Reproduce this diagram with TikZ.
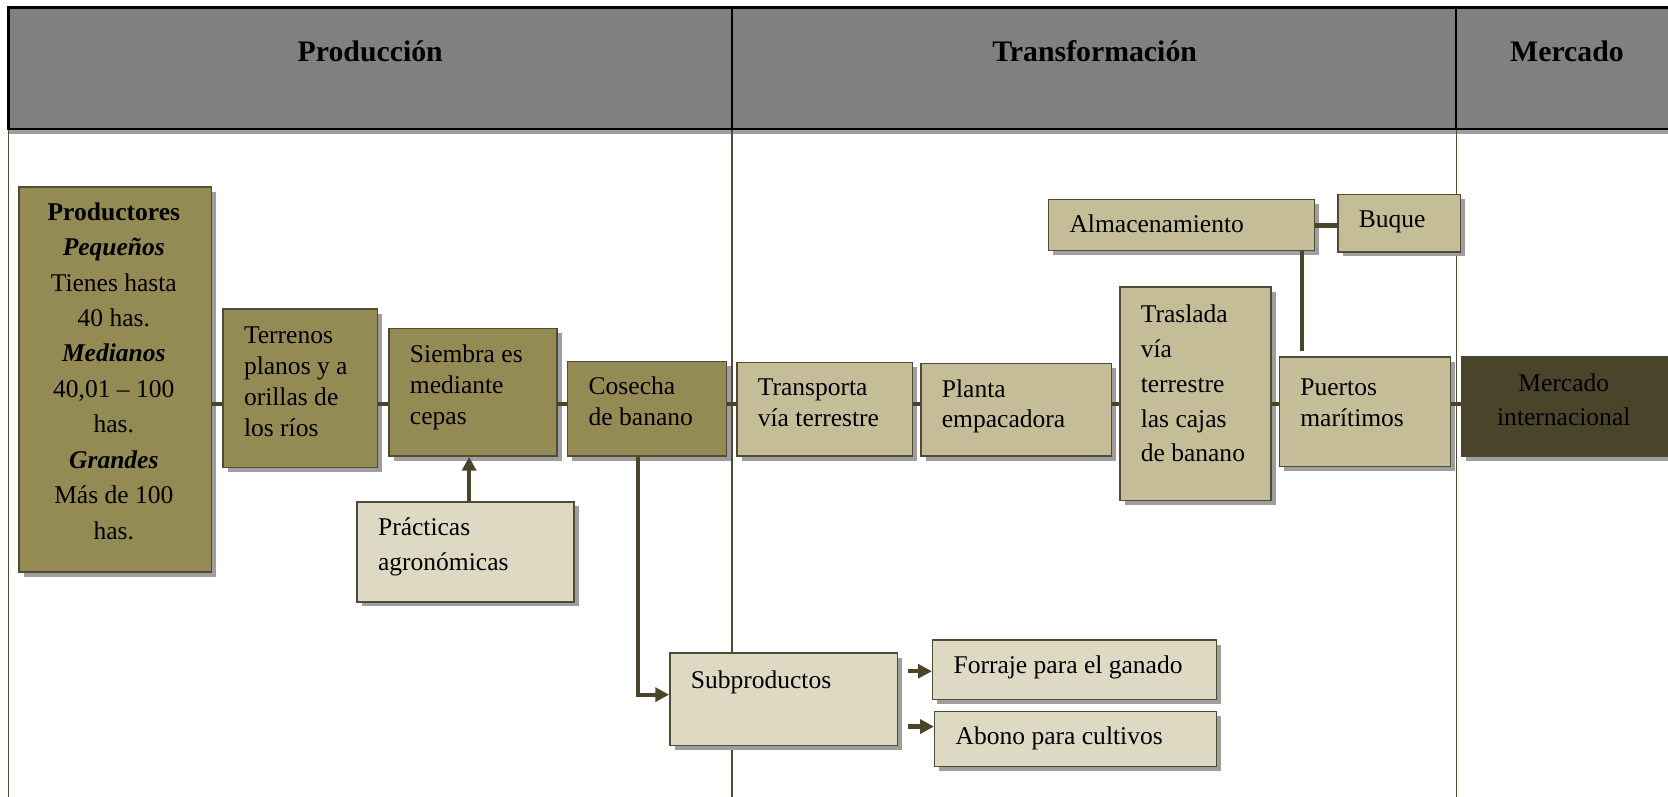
\documentclass[tikz,border=0pt]{standalone}
\usepackage{fontspec}
\setmainfont{Liberation Serif}
\usetikzlibrary{arrows.meta,shadows}
\definecolor{tanD}{HTML}{948A54}
\definecolor{tanM}{HTML}{C4BD97}
\definecolor{tanL}{HTML}{DDD9C3}
\definecolor{tanX}{HTML}{4A442A}
\definecolor{hdr}{HTML}{808080}
\definecolor{edgec}{HTML}{4F4B36}
\newcommand\lft[2]{\vtop{\baselineskip=#1\lineskiplimit=-20pt\halign{##\hfil\cr#2\crcr}}}
\newcommand\ctr[2]{\vtop{\baselineskip=#1\lineskiplimit=-20pt\halign{\hfil##\hfil\cr#2\crcr}}}
\begin{document}
\begin{tikzpicture}[x=0.5pt,y=-0.5pt,
  bx/.style={draw=edgec, line width=0.7pt, inner sep=0pt, anchor=north west,
    drop shadow={shadow xshift=2.2pt,shadow yshift=-2.2pt,fill=black!38,opacity=1}},
  txt/.style={inner sep=0pt, anchor=base west, font=\fontsize{12}{14.5}\selectfont},
  conn/.style={draw=tanX, line width=2pt},
  arr/.style={conn, -{Triangle[length=6.5pt,width=6.5pt]}},
  hd/.style={font=\fontsize{14}{16}\selectfont\bfseries, inner sep=0pt, anchor=base},
  gridl/.style={draw=edgec, line width=0.6pt}]
\useasboundingbox (0,0) rectangle (1568,749);
% table
\fill[black!38] (8,121) rectangle (1568,126);
\fill[hdr] (8,7) rectangle (1568,121);
\draw[gridl] (8,121) -- (8,749);
\draw[gridl] (688,121) -- (688,749);
\draw[gridl] (1369,121) -- (1369,749);
\draw[black, line width=1.1pt] (1568,7) -- (8,7) -- (8,121) -- (1568,121);
\draw[black, line width=0.9pt] (688,7) -- (688,121);
\draw[black, line width=0.9pt] (1369,7) -- (1369,121);
\node[hd] (hP) at (348,58) {Producción};
\node[hd] (hT) at (1029,58) {Transformación};
\node[hd] (hM) at (1473,58) {Mercado};
% boxes
\node[bx, fill=tanD, minimum width=90.5pt, minimum height=181pt] (prod) at (17,175) {};
\node[bx, fill=tanD, minimum width=72.5pt, minimum height=74.5pt] (terr) at (209,290) {};
\node[bx, fill=tanD, minimum width=79pt, minimum height=60pt] (siem) at (365,308) {};
\node[bx, fill=tanD, minimum width=74.5pt, minimum height=44.5pt] (cose) at (533,339) {};
\node[bx, fill=tanL, minimum width=102pt, minimum height=47pt] (prac) at (335,471) {};
\node[bx, fill=tanM, minimum width=82.5pt, minimum height=44pt] (tran) at (692,340) {};
\node[bx, fill=tanM, minimum width=89.5pt, minimum height=43.5pt] (plan) at (865,341) {};
\node[bx, fill=tanM, minimum width=71pt, minimum height=100.5pt] (tras) at (1052,269) {};
\node[bx, fill=tanM, minimum width=80.5pt, minimum height=51.5pt] (puer) at (1202,335) {};
\node[bx, fill=tanX, draw=tanX, minimum width=105pt, minimum height=46.5pt] (merc) at (1373,335) {};
\node[bx, fill=tanM, minimum width=125pt, minimum height=24pt] (alma) at (985,187) {};
\node[bx, fill=tanM, minimum width=57.5pt, minimum height=27pt] (buqu) at (1257,182) {};
\node[bx, fill=tanL, minimum width=107pt, minimum height=43.5pt] (subp) at (629,613) {};
\node[bx, fill=tanL, minimum width=133.5pt, minimum height=28pt] (forr) at (876,601) {};
\node[bx, fill=tanL, minimum width=132.5pt, minimum height=26pt] (abon) at (878,668) {};
% texts
\node[txt, anchor=base] (prodT) at (107,207) {\ctr{16.65pt}{\bfseries Productores\cr \bfseries\itshape Pequeños\cr Tienes hasta\cr 40 has.\cr \bfseries\itshape Medianos\cr 40,01 – 100\cr has.\cr \bfseries\itshape Grandes\cr Más de 100\cr has.}};
\node[txt] (terrT) at (229,323) {\lft{14.5pt}{Terrenos\cr planos y a\cr orillas de\cr los ríos}};
\node[txt] (siemT) at (385,341) {\lft{14.5pt}{Siembra es\cr mediante\cr cepas}};
\node[txt] (coseT) at (553,371) {\lft{14.5pt}{Cosecha\cr de banano}};
\node[txt] (pracT) at (355,503) {\lft{16.5pt}{Prácticas\cr agronómicas}};
\node[txt] (tranT) at (712,372) {\lft{14.5pt}{Transporta\cr vía terrestre}};
\node[txt] (planT) at (885,374) {\lft{14pt}{Planta\cr empacadora}};
\node[txt] (trasT) at (1072,303) {\lft{16.4pt}{Traslada\cr vía\cr terrestre\cr las cajas\cr de banano}};
\node[txt] (puerT) at (1222,372) {\lft{14.5pt}{Puertos\cr marítimos}};
\node[txt, anchor=base, text=black] (mercT) at (1470,368) {\ctr{16pt}{Mercado\cr internacional}};
\node[txt] (almaT) at (1005,219) {Almacenamiento};
\node[txt] (buquT) at (1277,214) {Buque};
\node[txt] (subpT) at (649,647) {Subproductos};
\node[txt] (forrT) at (896,633) {Forraje para el ganado};
\node[txt] (abonT) at (898,700) {Abono para cultivos};
% connectors
\coordinate (cy) at (0,380);
\draw[conn] (prod.east |- cy) -- (terr.west |- cy);
\draw[conn] (terr.east |- cy) -- (siem.west |- cy);
\draw[conn] (siem.east |- cy) -- (cose.west |- cy);
\draw[conn] (cose.east |- cy) -- (tran.west |- cy);
\draw[conn] (tran.east |- cy) -- (plan.west |- cy);
\draw[conn] (plan.east |- cy) -- (tras.west |- cy);
\draw[conn] (tras.east |- cy) -- (puer.west |- cy);
\draw[conn] (puer.east |- cy) -- (merc.west |- cy);
\coordinate (px) at (441,0);
\draw[arr] (prac.north -| px) -- (siem.south -| px);
\coordinate (sx) at (600,0);
\coordinate (sy) at (0,653);
\draw[arr] (cose.south -| sx) |- (subp.west |- sy);
\coordinate (fy) at (0,631);
\draw[arr, shorten <=4.5pt] (subp.east |- fy) -- (forr.west |- fy);
\coordinate (ay) at (0,683);
\draw[arr, shorten <=4.5pt] (subp.east |- ay) -- (abon.west |- ay);
\coordinate (by) at (0,212);
\draw[conn] (alma.east |- by) -- (buqu.west |- by);
\coordinate (vx) at (1224,0);
\draw[conn, shorten <=2.5pt] (puer.north -| vx) -- (alma.south -| vx);
\end{tikzpicture}
\end{document}
